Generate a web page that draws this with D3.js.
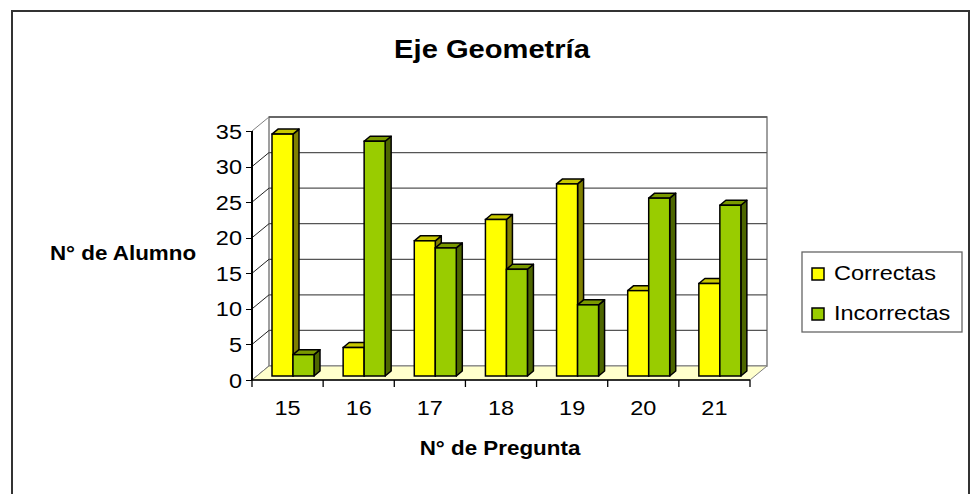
<!DOCTYPE html>
<html lang="es">
<head>
<meta charset="utf-8">
<title>Eje Geometría</title>
<script src="https://cdn.jsdelivr.net/npm/d3@7"></script>
<style>
  body { margin: 0; background: #fff; }
  svg text { font-family: "Liberation Sans", Arial, sans-serif; fill: #000; }
  .axis path, .axis line { stroke: #000; shape-rendering: crispEdges; }
</style>
</head>
<body>
<script>
// data
var categorias = ["15", "16", "17", "18", "19", "20", "21"];
var series = ["Correctas", "Incorrectas"];
var correctas = [34, 4, 19, 22, 27, 12, 13];
var incorrectas = [3, 33, 18, 15, 10, 25, 24];
var yTicks = [0, 5, 10, 15, 20, 25, 30, 35];

var w = 971, h = 494;
var sx = 1.12; // text in the picture is a bit wide

var colores = {
  Correctas:   { front: "#ffff00", side: "#808000", top: "#c8c800" },
  Incorrectas: { front: "#99cc00", side: "#4d6600", top: "#7a9900" }
};

var svg = d3.select("body").append("svg").attr("width", w).attr("height", h);

// outer frame
svg.append("rect").attr("x", 12).attr("y", 11).attr("width", 957).attr("height", 520)
  .attr("fill", "#fff").attr("stroke", "#333").attr("stroke-width", 2);

// 3d geometry
var x0 = 252, x1 = 750;           // front floor edge
var depthX = 17, depthY = -14;    // wall offset
var yFront = d3.scaleLinear().domain([0, 35]).range([380, 131]);
var yBack = d3.scaleLinear().domain([0, 35]).range([380 + depthY, 131 + depthY]);
var yBar = d3.scaleLinear().domain([0, 35]).range([376, 127]);

var x = d3.scaleBand().domain(categorias).range([x0, x1]).padding(0);
var xs = d3.scaleBand().domain(series).range([20, 62]).padding(0);

function stretched(sel, tx, ty) {
  return sel.attr("transform", "translate(" + tx + "," + ty + ") scale(" + sx + ",1)");
}

// back wall
var wall = svg.append("g");
wall.append("rect").attr("x", x0 + depthX).attr("y", yBack(35))
  .attr("width", x1 - x0).attr("height", yBack(0) - yBack(35))
  .attr("fill", "#fff").attr("stroke", "#808080").attr("stroke-width", 1.5);
wall.selectAll("line.grid").data(yTicks.slice(1)).enter().append("line")
  .attr("x1", x0 + depthX).attr("x2", x1 + depthX)
  .attr("y1", function(d) { return yBack(d); }).attr("y2", function(d) { return yBack(d); })
  .attr("stroke", "#555").attr("stroke-width", 1.3);
// side wall diagonals
wall.selectAll("line.diag").data(yTicks).enter().append("line")
  .attr("x1", x0).attr("x2", x0 + depthX)
  .attr("y1", function(d) { return yFront(d); }).attr("y2", function(d) { return yBack(d); })
  .attr("stroke", function(d) { return d === 35 ? "#808080" : "#222"; }).attr("stroke-width", 1);

// floor
wall.append("path")
  .attr("d", "M" + x0 + "," + yFront(0) + "L" + x1 + "," + yFront(0) +
    "L" + (x1 + depthX) + "," + yBack(0) + "L" + (x0 + depthX) + "," + yBack(0) + "Z")
  .attr("fill", "#ffffcc").attr("stroke", "#808080").attr("stroke-width", 1);

// bars
var bx = 6, by = -5;
function bar(g, left, wd, top, bottom, c) {
  g.append("path")
    .attr("d", "M" + (left + wd) + "," + bottom + "L" + (left + wd + bx) + "," + (bottom + by) +
      "L" + (left + wd + bx) + "," + (top + by) + "L" + (left + wd) + "," + top + "Z")
    .attr("fill", c.side).attr("stroke", "#000").attr("stroke-width", 1.5).attr("stroke-linejoin", "round");
  g.append("path")
    .attr("d", "M" + left + "," + top + "L" + (left + bx) + "," + (top + by) +
      "L" + (left + wd + bx) + "," + (top + by) + "L" + (left + wd) + "," + top + "Z")
    .attr("fill", c.top).attr("stroke", "#000").attr("stroke-width", 1.5).attr("stroke-linejoin", "round");
  g.append("rect").attr("x", left).attr("y", top).attr("width", wd).attr("height", bottom - top)
    .attr("fill", c.front).attr("stroke", "#000").attr("stroke-width", 1.5);
}

var barsG = svg.append("g");
categorias.forEach(function(cat, i) {
  var vals = { Correctas: correctas[i], Incorrectas: incorrectas[i] };
  series.forEach(function(s) {
    var left = x(cat) + xs(s);
    bar(barsG, left, xs.bandwidth(), yBar(vals[s]), yBar(0), colores[s]);
  });
});

// y axis
var yAxis = d3.axisLeft(yFront).tickValues(yTicks).tickSize(6).tickPadding(4);
var yg = svg.append("g").attr("class", "axis").attr("transform", "translate(" + x0 + ",0)").call(yAxis);
yg.selectAll("path").attr("d", "M0," + yFront(35) + "V" + yFront(0)).attr("stroke-width", 1.3);
yg.selectAll("text").remove();
yg.selectAll(".tick").each(function(d) {
  stretched(d3.select(this).append("text"), -10, 7)
    .attr("text-anchor", "end").attr("font-size", 21).text(d);
});

// x axis: ticks on band edges
var edges = categorias.map(function(c) { return x(c); }).concat([x1]);
svg.append("g").selectAll("line").data(edges).enter().append("line")
  .attr("x1", function(d) { return d; }).attr("x2", function(d) { return d; })
  .attr("y1", yFront(0)).attr("y2", yFront(0) + 7)
  .attr("stroke", "#000").attr("stroke-width", 1.3);
svg.append("line").attr("x1", x0).attr("x2", x1).attr("y1", yFront(0)).attr("y2", yFront(0))
  .attr("stroke", "#000").attr("stroke-width", 1.3);
var xAxis = d3.axisBottom(x).tickSize(0).tickPadding(0);
var xg = svg.append("g").attr("transform", "translate(0," + yFront(0) + ")").call(xAxis);
xg.select(".domain").remove();
xg.selectAll("text").remove();
xg.selectAll(".tick").each(function(d) {
  stretched(d3.select(this).append("text"), 0, 35)
    .attr("text-anchor", "middle").attr("font-size", 21).text(d);
});

// titles
stretched(svg.append("text"), 492, 58).attr("text-anchor", "middle")
  .attr("font-size", 26).attr("font-weight", "bold").text("Eje Geometría");
stretched(svg.append("text"), 123, 260).attr("text-anchor", "middle")
  .attr("font-size", 20).attr("font-weight", "bold").text("N° de Alumno");
stretched(svg.append("text"), 500, 455).attr("text-anchor", "middle")
  .attr("font-size", 20).attr("font-weight", "bold").text("N° de Pregunta");

// legend
var lg = svg.append("g");
lg.append("rect").attr("x", 802).attr("y", 252).attr("width", 160).attr("height", 80)
  .attr("fill", "#fff").attr("stroke", "#666").attr("stroke-width", 1.3);
series.forEach(function(s, i) {
  lg.append("rect").attr("x", 812).attr("y", 268 + i * 40).attr("width", 12).attr("height", 12)
    .attr("fill", colores[s].front).attr("stroke", "#000").attr("stroke-width", 1.5);
  stretched(lg.append("text"), 834, 280 + i * 40).attr("font-size", 21).text(s);
});
</script>
</body>
</html>
